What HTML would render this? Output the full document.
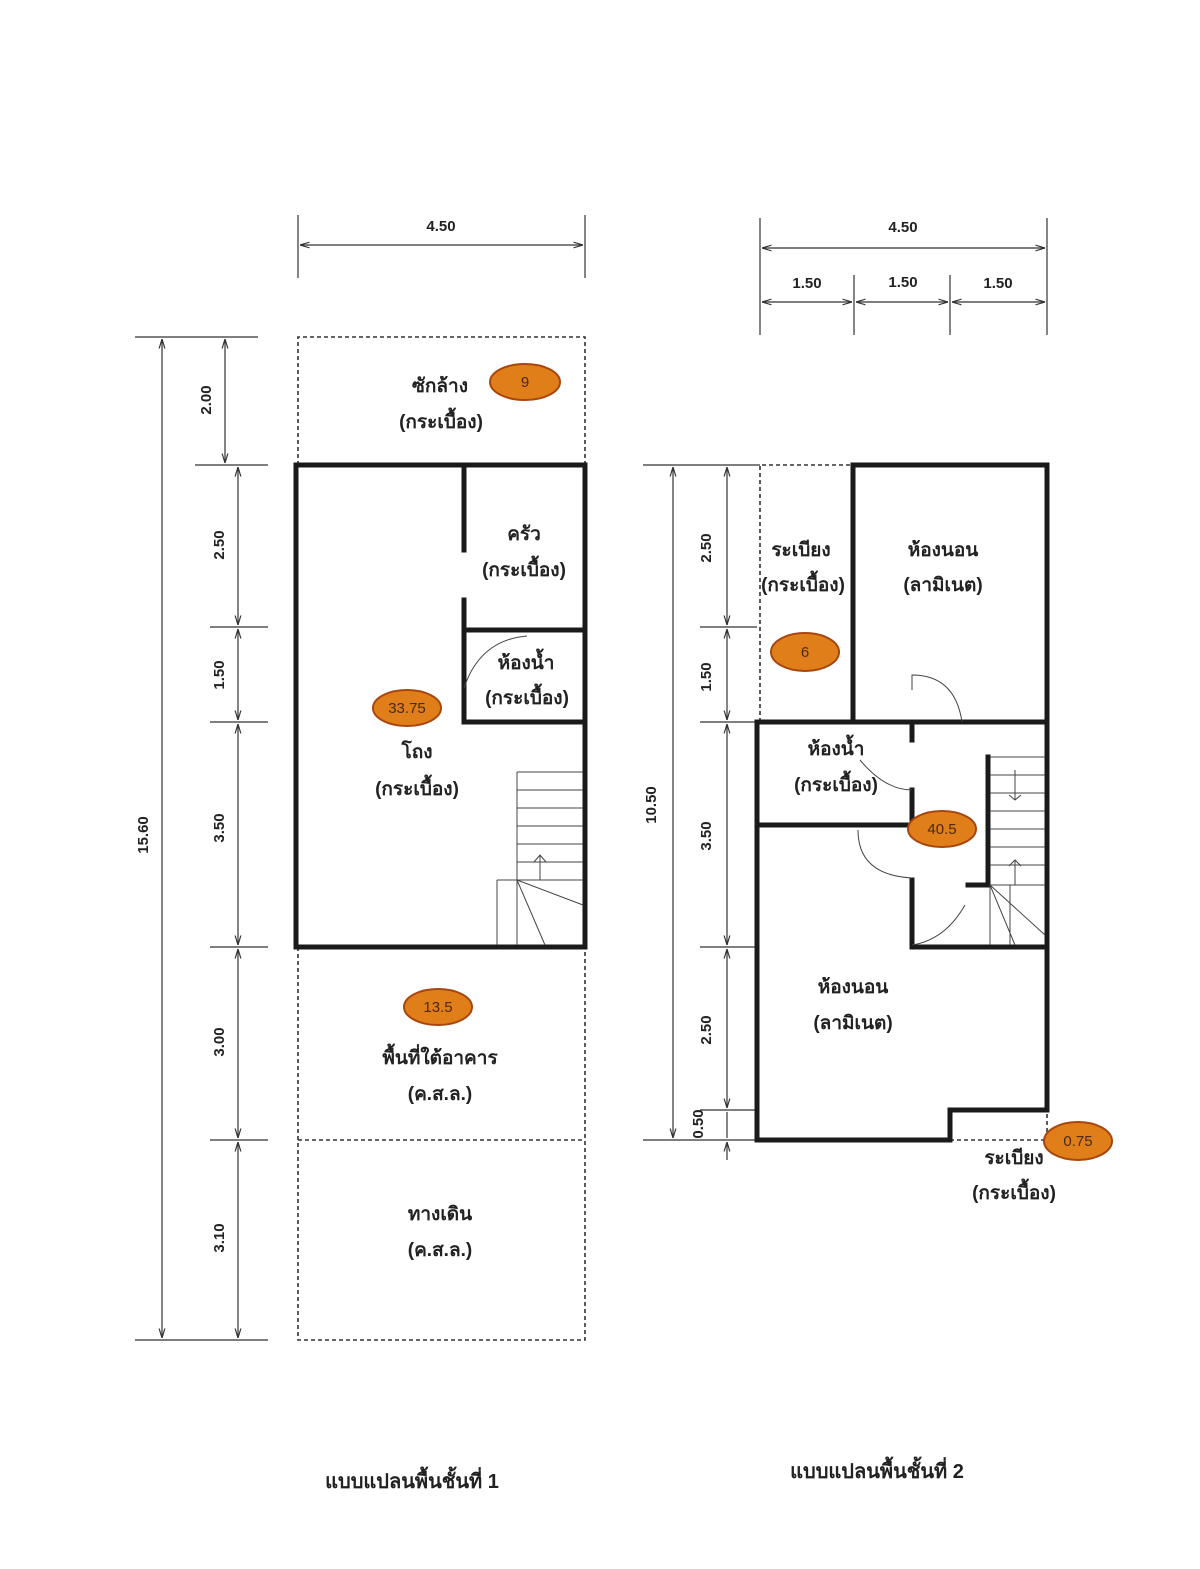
<!DOCTYPE html>
<html><head><meta charset="utf-8"><style>
html,body{margin:0;padding:0;background:#fff;}
svg{display:block;}
text{font-family:"Liberation Sans","Noto Sans CJK SC",sans-serif;fill:#222;}
.t{font-size:19px;font-weight:bold;text-anchor:middle;}
.d{font-size:15px;font-weight:bold;text-anchor:middle;}
.o{font-size:15px;text-anchor:middle;fill:#4a2a10;}
</style></head><body>
<svg width="1200" height="1569" viewBox="0 0 1200 1569" xmlns="http://www.w3.org/2000/svg">
<defs>
<marker id="a" viewBox="0 0 10 10" refX="10" refY="5" markerWidth="8" markerHeight="8" orient="auto-start-reverse"><path d="M0,2 L10,5 L0,8" fill="none" stroke="#333" stroke-width="1.2"/></marker>
</defs>
<g stroke="#333" stroke-width="1.2" fill="none">
<!-- left top dim -->
<line x1="298" y1="215" x2="298" y2="278"/><line x1="585" y1="215" x2="585" y2="278"/>
<line x1="300" y1="245" x2="583" y2="245" marker-start="url(#a)" marker-end="url(#a)"/>
<!-- left vertical dims -->
<line x1="135" y1="337" x2="258" y2="337"/><line x1="135" y1="1340" x2="268" y2="1340"/>
<line x1="162" y1="339" x2="162" y2="1338" marker-start="url(#a)" marker-end="url(#a)"/>
<line x1="195" y1="465" x2="268" y2="465"/><line x1="210" y1="627" x2="268" y2="627"/><line x1="210" y1="722" x2="268" y2="722"/><line x1="210" y1="947" x2="268" y2="947"/><line x1="210" y1="1140" x2="268" y2="1140"/>
<line x1="225" y1="339" x2="225" y2="463" marker-start="url(#a)" marker-end="url(#a)"/>
<line x1="238" y1="467" x2="238" y2="625" marker-start="url(#a)" marker-end="url(#a)"/>
<line x1="238" y1="629" x2="238" y2="720" marker-start="url(#a)" marker-end="url(#a)"/>
<line x1="238" y1="724" x2="238" y2="945" marker-start="url(#a)" marker-end="url(#a)"/>
<line x1="238" y1="949" x2="238" y2="1138" marker-start="url(#a)" marker-end="url(#a)"/>
<line x1="238" y1="1142" x2="238" y2="1338" marker-start="url(#a)" marker-end="url(#a)"/>
<!-- right top dims -->
<line x1="760" y1="218" x2="760" y2="335"/><line x1="1047" y1="218" x2="1047" y2="335"/>
<line x1="854" y1="275" x2="854" y2="335"/><line x1="950" y1="275" x2="950" y2="335"/>
<line x1="762" y1="248" x2="1045" y2="248" marker-start="url(#a)" marker-end="url(#a)"/>
<line x1="762" y1="302" x2="852" y2="302" marker-start="url(#a)" marker-end="url(#a)"/>
<line x1="856" y1="302" x2="948" y2="302" marker-start="url(#a)" marker-end="url(#a)"/>
<line x1="952" y1="302" x2="1045" y2="302" marker-start="url(#a)" marker-end="url(#a)"/>
<!-- right vertical dims -->
<line x1="643" y1="465" x2="760" y2="465"/><line x1="643" y1="1140" x2="760" y2="1140"/>
<line x1="673" y1="467" x2="673" y2="1138" marker-start="url(#a)" marker-end="url(#a)"/>
<line x1="700" y1="627" x2="757" y2="627"/><line x1="700" y1="722" x2="757" y2="722"/><line x1="700" y1="947" x2="757" y2="947"/><line x1="700" y1="1110" x2="757" y2="1110"/>
<line x1="727" y1="467" x2="727" y2="625" marker-start="url(#a)" marker-end="url(#a)"/>
<line x1="727" y1="629" x2="727" y2="720" marker-start="url(#a)" marker-end="url(#a)"/>
<line x1="727" y1="724" x2="727" y2="945" marker-start="url(#a)" marker-end="url(#a)"/>
<line x1="727" y1="949" x2="727" y2="1108" marker-start="url(#a)" marker-end="url(#a)"/>
<line x1="727" y1="1112" x2="727" y2="1138"/>
<line x1="727" y1="1142" x2="727" y2="1160" marker-start="url(#a)"/>
</g>
<!-- dashed areas -->
<g stroke="#333" stroke-width="1.6" fill="none" stroke-dasharray="4,3">
<path d="M298,465 V337 H585 V465"/>
<path d="M298,947 V1340 H585 V947"/>
<line x1="298" y1="1140" x2="585" y2="1140"/>
<path d="M760,722 V465 H853"/>
<path d="M950,1140 H1047 V1110"/>
</g>
<!-- walls -->
<g stroke="#1a1a1a" stroke-width="5" fill="none" stroke-linecap="square">
<rect x="296" y="465" width="289" height="482"/>
<line x1="464" y1="467" x2="464" y2="550"/>
<line x1="464" y1="600" x2="464" y2="722"/>
<line x1="464" y1="630" x2="583" y2="630"/>
<line x1="464" y1="722" x2="583" y2="722"/>
<rect x="853" y="465" width="194" height="257"/>
<path d="M757,722 V1140 H950 V1110 H1047 V722"/>
<line x1="757" y1="722" x2="853" y2="722"/>
<line x1="757" y1="825" x2="912" y2="825"/>
<line x1="912" y1="722" x2="912" y2="740"/>
<line x1="912" y1="790" x2="912" y2="825"/>
<path d="M912,880 V947 H1047"/>
<path d="M988,757 V885 H968"/>
</g>
<!-- stairs -->
<g stroke="#444" stroke-width="1" fill="none">
<path d="M517,772 H583 M517,772 V880 M517,790 H583 M517,808 H583 M517,826 H583 M517,844 H583 M517,862 H583 M497,880 H583 M497,880 V945 M517,880 V945 M517,880 L583,905 M517,880 L545,945 M540,855 V880 M534,862 L540,855 L546,862"/>
<path d="M990,757 H1045 M990,775 H1045 M990,793 H1045 M990,811 H1045 M990,829 H1045 M990,847 H1045 M990,865 H1045 M990,885 H1045 M990,885 V945 M1010,885 V945 M990,885 L1045,935 M990,885 L1015,945 M1015,770 V800 M1009,795 L1015,800 L1021,795 M1015,860 V885 M1009,866 L1015,860 L1021,866"/>
<path d="M464,688 Q480,640 527,636"/>
<path d="M912,690 V675 Q955,675 962,722"/>
<path d="M860,760 Q885,790 912,790"/>
<path d="M858,830 Q858,875 912,878"/>
<path d="M912,945 Q945,940 965,905"/>
</g>
<!-- ovals -->
<g fill="#e07f1a" stroke="#a8460e" stroke-width="2">
<ellipse cx="525" cy="382" rx="35" ry="18"/>
<ellipse cx="407" cy="708" rx="34" ry="18"/>
<ellipse cx="438" cy="1007" rx="34" ry="18"/>
<ellipse cx="805" cy="652" rx="34" ry="19"/>
<ellipse cx="942" cy="829" rx="34" ry="18"/>
<ellipse cx="1078" cy="1141" rx="34" ry="19"/>
</g>
<text class="o" x="525" y="387">9</text>
<text class="o" x="407" y="713">33.75</text>
<text class="o" x="438" y="1012">13.5</text>
<text class="o" x="805" y="657">6</text>
<text class="o" x="942" y="834">40.5</text>
<text class="o" x="1078" y="1146">0.75</text>
<!-- dim labels -->
<text class="d" x="441" y="231">4.50</text>
<text class="d" x="903" y="232">4.50</text>
<text class="d" x="807" y="288">1.50</text>
<text class="d" x="903" y="287">1.50</text>
<text class="d" x="998" y="288">1.50</text>
<g class="d">
<text class="d" transform="translate(148,835) rotate(-90)">15.60</text>
<text class="d" transform="translate(211,400) rotate(-90)">2.00</text>
<text class="d" transform="translate(224,545) rotate(-90)">2.50</text>
<text class="d" transform="translate(224,675) rotate(-90)">1.50</text>
<text class="d" transform="translate(224,828) rotate(-90)">3.50</text>
<text class="d" transform="translate(224,1042) rotate(-90)">3.00</text>
<text class="d" transform="translate(224,1238) rotate(-90)">3.10</text>
<text class="d" transform="translate(656,805) rotate(-90)">10.50</text>
<text class="d" transform="translate(711,548) rotate(-90)">2.50</text>
<text class="d" transform="translate(711,677) rotate(-90)">1.50</text>
<text class="d" transform="translate(711,836) rotate(-90)">3.50</text>
<text class="d" transform="translate(711,1030) rotate(-90)">2.50</text>
<text class="d" transform="translate(703,1124) rotate(-90)">0.50</text>
</g>
<!-- room labels -->
<text class="t" x="440" y="392">ซักล้าง</text>
<text class="t" x="441" y="428">(กระเบื้อง)</text>
<text class="t" x="524" y="540">ครัว</text>
<text class="t" x="524" y="576">(กระเบื้อง)</text>
<text class="t" x="526" y="669">ห้องน้ำ</text>
<text class="t" x="527" y="704">(กระเบื้อง)</text>
<text class="t" x="417" y="758">โถง</text>
<text class="t" x="417" y="795">(กระเบื้อง)</text>
<text class="t" x="440" y="1064">พื้นที่ใต้อาคาร</text>
<text class="t" x="440" y="1100">(ค.ส.ล.)</text>
<text class="t" x="440" y="1220">ทางเดิน</text>
<text class="t" x="440" y="1256">(ค.ส.ล.)</text>
<text class="t" x="801" y="556">ระเบียง</text>
<text class="t" x="803" y="591">(กระเบื้อง)</text>
<text class="t" x="943" y="556">ห้องนอน</text>
<text class="t" x="943" y="591">(ลามิเนต)</text>
<text class="t" x="836" y="755">ห้องน้ำ</text>
<text class="t" x="836" y="791">(กระเบื้อง)</text>
<text class="t" x="853" y="993">ห้องนอน</text>
<text class="t" x="853" y="1029">(ลามิเนต)</text>
<text class="t" x="1014" y="1164">ระเบียง</text>
<text class="t" x="1014" y="1199">(กระเบื้อง)</text>
<text class="t" x="412" y="1488" style="font-size:20px">แบบแปลนพื้นชั้นที่ 1</text>
<text class="t" x="877" y="1478" style="font-size:20px">แบบแปลนพื้นชั้นที่ 2</text>
</svg>
</body></html>
